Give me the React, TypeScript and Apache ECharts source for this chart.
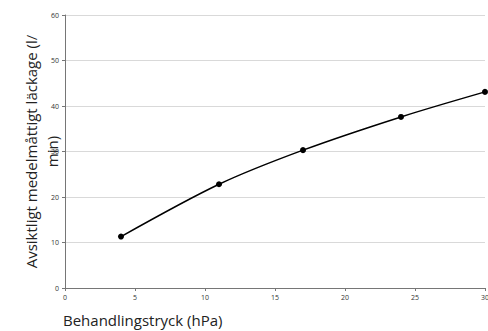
import React, { useEffect, useRef } from "react";
import * as echarts from "echarts";

const pressure = [4, 11, 17, 24, 30];
const leakage = [11.3, 22.8, 30.3, 37.6, 43.1];
const xAxisTitle = "Behandlingstryck (hPa)";
const yAxisTitle = "Avsiktligt medelmåttigt läckage (l/\nmin)";

export default function App() {
  const ref = useRef<HTMLDivElement>(null);
  useEffect(() => {
    if (!ref.current) return;
    const chart = echarts.init(ref.current, null, { renderer: "svg" });
    const font = "'Open Sans', 'Noto Sans', sans-serif";
    chart.setOption({
      animation: false,
      textStyle: { fontFamily: font },
      grid: { left: 65, right: 3, top: 15, bottom: 43, containLabel: false, outerBoundsMode: "none" },
      xAxis: {
        type: "value",
        min: 0,
        max: 30,
        interval: 5,
        splitLine: { show: false },
        axisLine: { show: true, lineStyle: { color: "#767676", width: 1 } },
        axisTick: { show: true, length: 3, lineStyle: { color: "#767676" } },
        axisLabel: { fontSize: 7, color: "#333333", margin: 6, fontFamily: font },
      },
      yAxis: {
        type: "value",
        min: 0,
        max: 60,
        interval: 10,
        name: yAxisTitle,
        nameLocation: "middle",
        nameRotate: 90,
        nameGap: 3,
        nameMoveOverlap: false,
        nameTextStyle: { fontSize: 15, color: "#222222", lineHeight: 21, fontFamily: font },
        splitLine: { show: true, lineStyle: { color: "#d9d9d9", width: 1 } },
        axisLine: { show: true, lineStyle: { color: "#767676", width: 1 } },
        axisTick: { show: true, length: 3, lineStyle: { color: "#767676" } },
        axisLabel: { fontSize: 7, color: "#333333", margin: 6, fontFamily: font },
      },
      graphic: [
        {
          type: "text",
          left: 63,
          top: 312,
          style: { text: xAxisTitle, fontSize: 15, fill: "#222222", fontFamily: font },
        },
      ],
      series: [
        {
          type: "line",
          data: pressure.map((x, i) => [x, leakage[i]]),
          smooth: 0.3,
          symbol: "circle",
          symbolSize: 6,
          itemStyle: { color: "#000000" },
          lineStyle: { color: "#000000", width: 1.5 },
        },
      ],
    });
    return () => chart.dispose();
  }, []);
  return <div ref={ref} style={{ width: 488, height: 331, position: "absolute", left: 0, top: 0 }} />;
}
